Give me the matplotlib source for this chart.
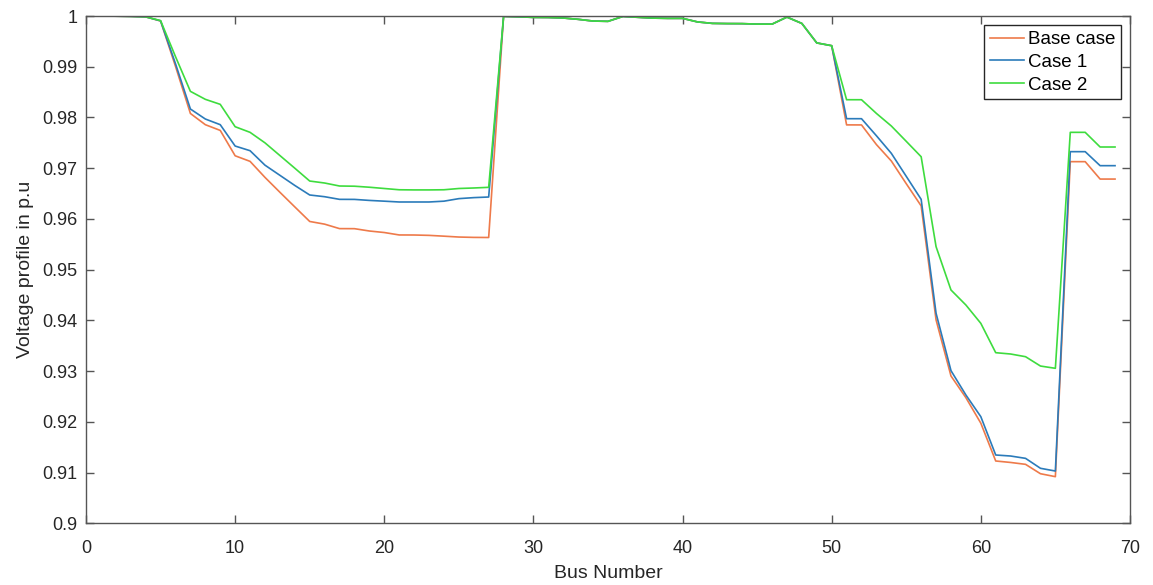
import matplotlib
matplotlib.use("Agg")
import matplotlib.pyplot as plt

plt.rcParams['font.family'] = ['Liberation Sans', 'DejaVu Sans']

bus = list(range(1, 70))

base_case = [1.0, 0.99997, 0.99993, 0.99984, 0.99902, 0.99009, 0.98079, 0.97858, 0.97745, 0.97245,
             0.97135, 0.96819, 0.96526, 0.96237, 0.95950, 0.95897, 0.95809, 0.95808, 0.95762, 0.95732,
             0.95684, 0.95683, 0.95676, 0.95660, 0.95643, 0.95636, 0.95634, 0.99993, 0.99985, 0.99973,
             0.99971, 0.99961, 0.99935, 0.99901, 0.99895, 0.99992, 0.99975, 0.99959, 0.99954, 0.99954,
             0.99884, 0.99855, 0.99851, 0.99850, 0.99841, 0.99840, 0.99979, 0.99854, 0.99470, 0.99415,
             0.97854, 0.97853, 0.97466, 0.97142, 0.96695, 0.96257, 0.94010, 0.92904, 0.92476, 0.91974,
             0.91228, 0.91199, 0.91162, 0.90977, 0.90919, 0.97129, 0.97129, 0.96786, 0.96786]

case_1 = [1.0, 0.99997, 0.99993, 0.99984, 0.99905, 0.99060, 0.98167, 0.97970, 0.97858, 0.97437,
          0.97345, 0.97060, 0.96860, 0.96660, 0.96472, 0.96438, 0.96386, 0.96385, 0.96365, 0.96350,
          0.96334, 0.96334, 0.96334, 0.96350, 0.96400, 0.96420, 0.96432, 0.99993, 0.99985, 0.99973,
          0.99971, 0.99961, 0.99935, 0.99901, 0.99895, 0.99992, 0.99975, 0.99959, 0.99954, 0.99954,
          0.99884, 0.99855, 0.99851, 0.99850, 0.99841, 0.99840, 0.99979, 0.99854, 0.99470, 0.99415,
          0.97976, 0.97976, 0.97640, 0.97293, 0.96840, 0.96386, 0.94140, 0.93009, 0.92529, 0.92102,
          0.91346, 0.91326, 0.91280, 0.91084, 0.91030, 0.97326, 0.97326, 0.97050, 0.97050]

case_2 = [1.0, 0.99997, 0.99993, 0.99984, 0.99910, 0.99200, 0.98515, 0.98358, 0.98259, 0.97818,
          0.97707, 0.97500, 0.97250, 0.97000, 0.96747, 0.96708, 0.96649, 0.96645, 0.96625, 0.96600,
          0.96575, 0.96572, 0.96572, 0.96575, 0.96600, 0.96610, 0.96623, 0.99993, 0.99985, 0.99973,
          0.99971, 0.99961, 0.99935, 0.99901, 0.99895, 0.99992, 0.99975, 0.99959, 0.99954, 0.99954,
          0.99884, 0.99855, 0.99851, 0.99850, 0.99841, 0.99840, 0.99979, 0.99854, 0.99470, 0.99415,
          0.98350, 0.98350, 0.98080, 0.97832, 0.97530, 0.97226, 0.95453, 0.94599, 0.94303, 0.93942,
          0.93363, 0.93337, 0.93284, 0.93100, 0.93055, 0.97707, 0.97707, 0.97418, 0.97418]

labels = ['Base case', 'Case 1', 'Case 2']
colors = ['#EE7A4A', '#2B7BBA', '#3EDC3E']

fig = plt.figure(figsize=(11.53, 5.85), dpi=100)
ax = fig.add_axes([0.0746, 0.1055, 0.9054, 0.8671])

for y, lab, c in zip([base_case, case_1, case_2], labels, colors):
    ax.plot(bus, y, color=c, lw=1.2, label=lab)

ax.set_xlim(0, 70)
ax.set_ylim(0.9, 1.0)
ax.set_xticks(range(0, 71, 10))
ax.set_yticks([0.9 + 0.01 * i for i in range(11)])
ax.set_yticklabels(['0.9', '0.91', '0.92', '0.93', '0.94', '0.95', '0.96', '0.97', '0.98', '0.99', '1'])
ax.tick_params(direction='in', length=6, width=1, colors='#555555', labelcolor='#262626',
               labelsize=13, top=True, right=True)
ax.tick_params(axis='x', pad=12)
ax.tick_params(axis='y', pad=6)
for s in ax.spines.values():
    s.set_color('#555555')
    s.set_linewidth(1)

ax.set_xlabel('Bus Number', fontsize=14, color='#262626', labelpad=6)
ax.set_ylabel('Voltage profile in p.u', fontsize=14, color='#262626', labelpad=6)

leg = ax.legend(loc='upper right', fontsize=13.5, fancybox=False, framealpha=1,
                edgecolor='#262626', borderpad=0.3, labelspacing=0.3,
                handlelength=1.8, handletextpad=0.2, borderaxespad=0.5)
leg.get_frame().set_linewidth(1)

fig.savefig('out.png', dpi=100)
